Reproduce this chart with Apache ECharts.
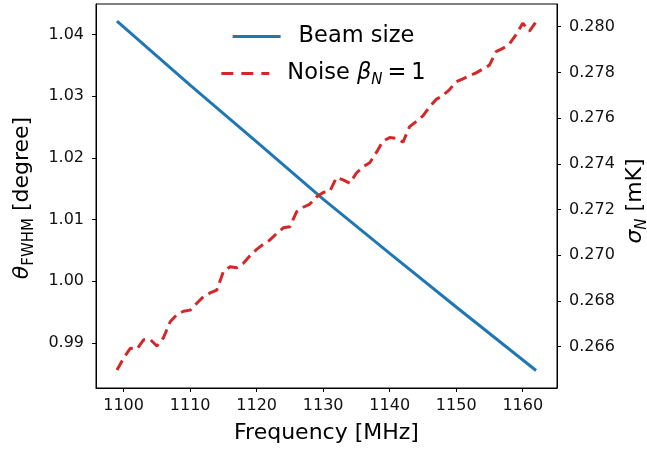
<!DOCTYPE html>
<html>
<head>
<meta charset="utf-8">
<script src="https://cdn.jsdelivr.net/npm/echarts@6/dist/echarts.min.js"></script>
<style>html,body{margin:0;padding:0;background:#fff}#c{width:647px;height:451px}</style>
</head>
<body>
<div id="c"></div>
<script>
var beamFreq = [1099, 1110, 1120, 1130, 1140, 1150, 1162];
var beamSize = [1.0422, 1.0318, 1.0226, 1.0133, 1.0045, 0.9958, 0.9855];
var noiseFreq = [1099,1100,1101,1102,1103,1104,1105,1106,1107,1108,1109,1110,1111,1112,1113,1114,1115,1116,1117,1118,1119,1120,1121,1122,1123,1124,1125,1126,1127,1128,1129,1130,1131,1132,1133,1134,1135,1136,1137,1138,1139,1140,1141,1142,1143,1144,1145,1146,1147,1148,1149,1150,1151,1152,1153,1154,1155,1156,1157,1158,1159,1160,1161,1162];
var noiseVal = [0.26498,0.26550,0.26593,0.26590,0.26630,0.26632,0.26603,0.26640,0.26709,0.26740,0.26755,0.26760,0.26790,0.26819,0.26835,0.26848,0.26928,0.26950,0.26945,0.26965,0.26998,0.27026,0.27048,0.27067,0.27095,0.27120,0.27125,0.27190,0.27210,0.27224,0.27255,0.27275,0.27280,0.27340,0.27330,0.27315,0.27360,0.27387,0.27405,0.27450,0.27500,0.27515,0.27512,0.27495,0.27563,0.27585,0.27610,0.27650,0.27682,0.27700,0.27725,0.27759,0.27772,0.27785,0.27798,0.27815,0.27832,0.27891,0.27905,0.27925,0.27965,0.28015,0.27980,0.28022];
var xTicks = [1100, 1110, 1120, 1130, 1140, 1150, 1160];
var leftTicks = [0.99, 1.00, 1.01, 1.02, 1.03, 1.04];
var rightTicks = [0.266, 0.268, 0.270, 0.272, 0.274, 0.276, 0.278, 0.280];

var FONT = 'DejaVu Sans';
var chart = echarts.init(document.getElementById('c'));
var beamData = beamFreq.map(function (f, i) { return [f, beamSize[i]]; });
var noiseData = noiseFreq.map(function (f, i) { return [f, noiseVal[i]]; });

chart.setOption({
  animation: false,
  backgroundColor: '#fff',
  textStyle: { fontFamily: FONT },
  grid: { left: 96, right: 90, top: 4, bottom: 63, show: true, borderColor: '#000', borderWidth: 1, backgroundColor: 'transparent' },
  legend: [
    {
      data: ['Beam size'], left: 'center', top: 20, itemWidth: 48, itemHeight: 3,
      icon: 'rect',
      textStyle: { fontFamily: FONT, fontSize: 22.5, color: '#000', padding: [0, 0, 0, 13] }
    },
    {
      data: ['Noise'], left: 'center', top: 57, itemWidth: 48, itemHeight: 3,
      icon: 'path://M0,0H12V3H0Z M20,0H32V3H20Z M40,0H48V3H40Z',
      formatter: function () { return '{a|Noise }{b|β}{c|N}{e|=}{a|1}'; },
      textStyle: {
        fontFamily: FONT, fontSize: 22.5, color: '#000', padding: [0, 0, 0, 13],
        rich: {
          a: { fontFamily: FONT, fontSize: 22.5, color: '#000', lineHeight: 28 },
          b: { fontFamily: FONT, fontSize: 22.5, fontStyle: 'italic', color: '#000', lineHeight: 28 },
          c: { fontFamily: FONT, fontSize: 15, fontStyle: 'italic', color: '#000', lineHeight: 28, verticalAlign: 'bottom' },
          e: { fontFamily: FONT, fontSize: 22.5, color: '#000', lineHeight: 28, padding: [0, 5, 0, 5] }
        }
      }
    }
  ],
  xAxis: {
    type: 'value', min: 1095.85, max: 1165.15,
    name: 'Frequency [MHz]', nameLocation: 'middle', nameGap: 34,
    nameTextStyle: { fontFamily: FONT, fontSize: 22, color: '#000' },
    axisLine: { show: true, lineStyle: { color: '#000', width: 1 } },
    axisTick: { show: true, inside: false, length: 4, lineStyle: { color: '#000' }, customValues: xTicks },
    axisLabel: { fontFamily: FONT, fontSize: 16, color: '#111', margin: 10, customValues: xTicks, formatter: function (v) { return String(Math.round(v)); } },
    splitLine: { show: false }
  },
  yAxis: [
    {
      type: 'value', position: 'left', min: 0.98266, max: 1.04498,
      axisLine: { show: true, lineStyle: { color: '#000', width: 1 } },
      axisTick: { show: true, inside: false, length: 4, lineStyle: { color: '#000' }, customValues: leftTicks },
      axisLabel: { fontFamily: FONT, fontSize: 16, color: '#111', margin: 12, customValues: leftTicks, formatter: function (v) { return v.toFixed(2); } },
      splitLine: { show: false }
    },
    {
      type: 'value', position: 'right', min: 0.264193, max: 0.280993,
      axisLine: { show: true, lineStyle: { color: '#000', width: 1 } },
      axisTick: { show: true, inside: false, length: 4, lineStyle: { color: '#000' }, customValues: rightTicks },
      axisLabel: { fontFamily: FONT, fontSize: 16, color: '#111', margin: 12, customValues: rightTicks, formatter: function (v) { return v.toFixed(3); } },
      splitLine: { show: false }
    }
  ],
  graphic: [
    {
      type: 'text', x: 22, y: 198, rotation: Math.PI / 2,
      style: {
        text: '{t|θ}{s|FWHM}{r| [degree]}',
        align: 'center', verticalAlign: 'middle',
        rich: {
          t: { fontFamily: FONT, fontSize: 22, fontStyle: 'italic', fill: '#000', lineHeight: 30 },
          s: { fontFamily: FONT, fontSize: 15, fill: '#000', lineHeight: 30, verticalAlign: 'bottom' },
          r: { fontFamily: FONT, fontSize: 22, fill: '#000', lineHeight: 30 }
        }
      }
    },
    {
      type: 'text', x: 635, y: 201, rotation: Math.PI / 2,
      style: {
        text: '{t|σ}{s|N}{r| [mK]}',
        align: 'center', verticalAlign: 'middle',
        rich: {
          t: { fontFamily: FONT, fontSize: 22, fontStyle: 'italic', fill: '#000', lineHeight: 30 },
          s: { fontFamily: FONT, fontSize: 15, fontStyle: 'italic', fill: '#000', lineHeight: 30, verticalAlign: 'bottom' },
          r: { fontFamily: FONT, fontSize: 22, fill: '#000', lineHeight: 30 }
        }
      }
    }
  ],
  series: [
    {
      name: 'Beam size', type: 'line', yAxisIndex: 0, data: beamData,
      showSymbol: false, symbol: 'none',
      lineStyle: { color: '#1f77b4', width: 3 }, itemStyle: { color: '#1f77b4' }
    },
    {
      name: 'Noise', type: 'line', yAxisIndex: 1, data: noiseData,
      showSymbol: false, symbol: 'none',
      lineStyle: { color: '#d62728', width: 3, type: [11, 6] }, itemStyle: { color: '#d62728' }
    }
  ]
});
</script>
</body>
</html>
